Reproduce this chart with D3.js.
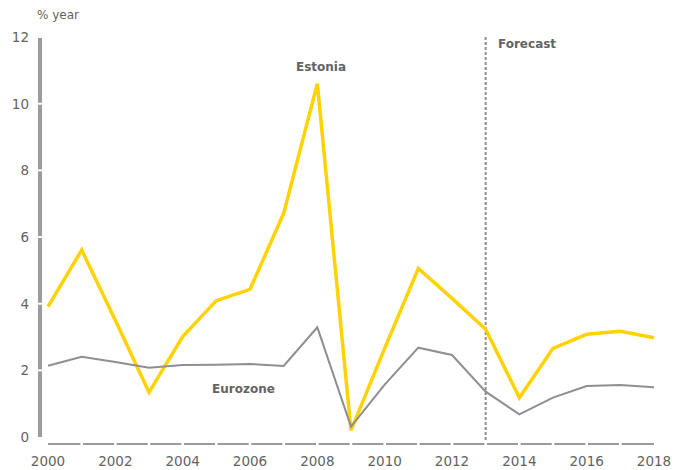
<!DOCTYPE html>
<html>
<head>
<meta charset="utf-8">
<script src="https://cdn.jsdelivr.net/npm/d3@7"></script>
<style>
  html, body { margin: 0; padding: 0; background: #fff; }
  svg { display: block; font-family: "DejaVu Sans", sans-serif; }
</style>
</head>
<body>
<svg id="chart" width="687" height="470"></svg>
<script>
// GDP growth, % per year
const years = [2000, 2001, 2002, 2003, 2004, 2005, 2006, 2007, 2008, 2009,
               2010, 2011, 2012, 2013, 2014, 2015, 2016, 2017, 2018];
const estonia = [3.91, 5.61, 3.5, 1.34, 3.01, 4.09, 4.43, 6.71, 10.6, 0.2,
                 2.66, 5.06, 4.16, 3.23, 1.18, 2.66, 3.08, 3.17, 2.98];
const eurozone = [2.14, 2.41, 2.25, 2.08, 2.16, 2.17, 2.19, 2.13, 3.29, 0.31,
                  1.57, 2.68, 2.46, 1.36, 0.68, 1.18, 1.53, 1.56, 1.49];
const yTicks = [0, 2, 4, 6, 8, 10, 12];
const xTicks = [2000, 2002, 2004, 2006, 2008, 2010, 2012, 2014, 2016, 2018];
const forecastStart = 2013;

const svg = d3.select("#chart");
const x = d3.scaleLinear().domain([2000, 2018]).range([48, 654]);
const y = d3.scaleLinear().domain([0, 12]).range([437, 37]);

const axisGrey = "#9b9b9b";
const textGrey = "#636363";

// Y axis: thick bar broken by small gaps at each tick
const yAxisX = 40;
const gy = svg.append("g");
for (let i = 0; i < yTicks.length - 1; i++) {
  gy.append("line")
    .attr("x1", yAxisX).attr("x2", yAxisX)
    .attr("y1", y(yTicks[i]) - (i === 0 ? 0 : 1))
    .attr("y2", y(yTicks[i + 1]) + 1)
    .attr("stroke", axisGrey).attr("stroke-width", 4);
}
gy.selectAll("text").data(yTicks).join("text")
  .attr("x", 29).attr("y", d => y(d))
  .attr("dy", "0.36em")
  .attr("text-anchor", "end")
  .attr("font-size", 13.5)
  .attr("fill", textGrey)
  .text(d => d);

// X axis: one segment per year with small gaps between them
const axisY = 444;
const gx = svg.append("g");
for (let i = 0; i < years.length - 1; i++) {
  gx.append("line")
    .attr("x1", x(years[i]) + (i === 0 ? 0 : 1.3))
    .attr("x2", x(years[i + 1]) - (i === years.length - 2 ? 0 : 1.3))
    .attr("y1", axisY).attr("y2", axisY)
    .attr("stroke", axisGrey).attr("stroke-width", 2);
}
gx.selectAll("text").data(xTicks).join("text")
  .attr("x", d => x(d)).attr("y", 466)
  .attr("text-anchor", "middle")
  .attr("font-size", 13.5)
  .attr("fill", textGrey)
  .text(d => d);

// Unit label
svg.append("text")
  .attr("x", 37).attr("y", 19)
  .attr("font-size", 12)
  .attr("fill", textGrey)
  .text("% year");

// Forecast divider
svg.append("line")
  .attr("x1", x(forecastStart)).attr("x2", x(forecastStart))
  .attr("y1", y(12)).attr("y2", 440)
  .attr("stroke", "#8f8f8f").attr("stroke-width", 2)
  .attr("stroke-dasharray", "3,2");
svg.append("text")
  .attr("x", 498).attr("y", 48)
  .attr("font-size", 12).attr("font-weight", "bold")
  .attr("fill", textGrey)
  .text("Forecast");

// Series lines
const line = d3.line()
  .x((d, i) => x(years[i]))
  .y(d => y(d));

svg.append("path")
  .datum(estonia)
  .attr("d", line)
  .attr("fill", "none")
  .attr("stroke", "#ffd200")
  .attr("stroke-width", 3.5)
  .attr("stroke-linejoin", "miter");

svg.append("path")
  .datum(eurozone)
  .attr("d", line)
  .attr("fill", "none")
  .attr("stroke", "#8f8f93")
  .attr("stroke-width", 2)
  .attr("stroke-linejoin", "miter");

// Series labels
svg.append("text")
  .attr("x", 321).attr("y", 71)
  .attr("text-anchor", "middle")
  .attr("font-size", 12).attr("font-weight", "bold")
  .attr("fill", textGrey)
  .text("Estonia");

svg.append("text")
  .attr("x", 212).attr("y", 393)
  .attr("font-size", 12).attr("font-weight", "bold")
  .attr("fill", textGrey)
  .text("Eurozone");
</script>
</body>
</html>
